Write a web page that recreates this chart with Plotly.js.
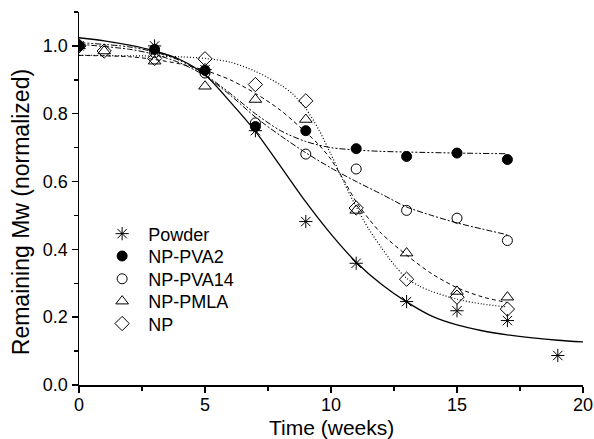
<!DOCTYPE html>
<html>
<head>
<meta charset="utf-8">
<script src="https://cdn.plot.ly/plotly-3.0.1.min.js"></script>
<style>html,body{margin:0;padding:0;background:#fff;}#chart{width:594px;height:439px;}</style>
</head>
<body>
<div id="chart"></div>
<script>
// ---- measured points ----
const seriesNames = ["Powder", "NP-PVA2", "NP-PVA14", "NP-PMLA", "NP"];
const powderT = [0, 3, 5, 7, 9, 11, 13, 15, 17, 19];
const powderY = [1.0, 1.0, 0.93, 0.75, 0.482, 0.359, 0.246, 0.219, 0.19, 0.087];
const pva2T = [0, 3, 5, 7, 9, 11, 13, 15, 17];
const pva2Y = [1.0, 0.99, 0.928, 0.762, 0.75, 0.697, 0.674, 0.684, 0.665];
const pva14T = [0, 3, 5, 7, 9, 11, 13, 15, 17];
const pva14Y = [1.0, 0.98, 0.92, 0.773, 0.681, 0.637, 0.515, 0.492, 0.426];
const pmlaT = [0, 1, 3, 5, 7, 9, 11, 13, 15, 17];
const pmlaY = [1.0, 0.985, 0.955, 0.881, 0.842, 0.783, 0.515, 0.389, 0.276, 0.259];
const npT = [0, 1, 3, 5, 7, 9, 11, 13, 15, 17];
const npY = [1.0, 0.985, 0.963, 0.962, 0.886, 0.838, 0.522, 0.312, 0.259, 0.224];

// ---- fitted curves ----
const powderFitT = [0, 1, 2, 3, 4, 5, 6, 7, 8, 9, 10, 11, 12, 13, 14, 15, 16, 17, 18, 19, 20];
const powderFitY = [1.024, 1.015, 1.002, 0.985, 0.96, 0.915, 0.835, 0.748, 0.645, 0.54, 0.445, 0.362, 0.297, 0.245, 0.203, 0.177, 0.16, 0.148, 0.139, 0.132, 0.127];
const pva2FitT = [0, 2, 3, 4, 5, 6, 7, 8, 9, 10, 11, 12, 13, 15, 17];
const pva2FitY = [1.01, 0.997, 0.982, 0.957, 0.915, 0.86, 0.8, 0.75, 0.718, 0.7, 0.693, 0.689, 0.687, 0.684, 0.682];
const pva14FitT = [0, 2, 3, 4, 5, 6, 7, 8, 9, 10, 11, 12, 13, 14, 15, 16, 17];
const pva14FitY = [1.005, 0.99, 0.975, 0.95, 0.912, 0.855, 0.79, 0.735, 0.685, 0.64, 0.6, 0.563, 0.525, 0.5, 0.478, 0.46, 0.443];
const pmlaFitT = [0, 2, 3, 4, 5, 6, 7, 8, 9, 9.5, 10, 10.5, 11, 11.5, 12, 13, 14, 15, 16, 17];
const pmlaFitY = [0.972, 0.968, 0.96, 0.947, 0.928, 0.9, 0.86, 0.81, 0.745, 0.71, 0.665, 0.605, 0.54, 0.49, 0.447, 0.383, 0.328, 0.287, 0.26, 0.243];
const npFitT = [0, 2, 4, 5, 6, 7, 8, 8.5, 9, 9.5, 10, 10.5, 11, 11.5, 12, 12.5, 13, 13.5, 14, 15, 16, 17];
const npFitY = [0.972, 0.971, 0.968, 0.963, 0.952, 0.925, 0.885, 0.857, 0.815, 0.755, 0.68, 0.6, 0.525, 0.46, 0.405, 0.355, 0.315, 0.292, 0.276, 0.253, 0.239, 0.23];

const xTicks = [0, 5, 10, 15, 20];
const yTicks = [0.0, 0.2, 0.4, 0.6, 0.8, 1.0];
const yTickText = ["0.0", "0.2", "0.4", "0.6", "0.8", "1.0"];
const xTitle = "Time (weeks)";
const yTitle = "Remaining Mw (normalized)";

const FONT = "Liberation Sans, Arial, sans-serif";

function fit(x, y, dash, width) {
  return {x: x, y: y, type: "scatter", mode: "lines", showlegend: false, hoverinfo: "skip",
    line: {color: "black", width: width || 1, dash: dash, shape: "spline", smoothing: 0.8}};
}
function pts(x, y, name, symbol, size, legendId) {
  return {x: x, y: y, type: "scatter", mode: "markers", name: name, legend: legendId,
    marker: {symbol: symbol, size: size, color: "black", line: {color: "black", width: 1}}};
}

const data = [
  fit(powderFitT, powderFitY, "solid", 1.3),
  fit(pva2FitT, pva2FitY, "6px,2px,2px,2px,2px,2px"),
  fit(pva14FitT, pva14FitY, "6px,2px,2px,2px"),
  fit(pmlaFitT, pmlaFitY, "4px,3px"),
  fit(npFitT, npFitY, "1px,2px", 1.2),
  pts(powderT, powderY, seriesNames[0], "asterisk-open", 11, "legend"),
  pts(pva2T, pva2Y, seriesNames[1], "circle", 10, "legend2"),
  pts(pva14T, pva14Y, seriesNames[2], "circle-open", 10, "legend3"),
  pts(pmlaT, pmlaY, seriesNames[3], "triangle-up-open", 11, "legend4"),
  pts(npT, npY, seriesNames[4], "diamond-open", 11, "legend5")
];

function legendAt(yc) {
  return {x: 0.034, y: yc, xanchor: "left", yanchor: "middle", bgcolor: "rgba(0,0,0,0)",
    font: {family: FONT, size: 18, color: "black"}, itemwidth: 42, borderwidth: 0};
}

const layout = {
  width: 594, height: 439,
  margin: {l: 79, r: 11, t: 12, b: 54},
  paper_bgcolor: "white", plot_bgcolor: "white",
  font: {family: FONT, size: 18, color: "black"},
  showlegend: true,
  legend: legendAt(0.405),
  legend2: legendAt(0.345),
  legend3: legendAt(0.284),
  legend4: legendAt(0.224),
  legend5: legendAt(0.164),
  xaxis: {
    range: [0, 20], tickvals: xTicks, ticktext: xTicks.map(String),
    showgrid: false, zeroline: false, showline: true, linecolor: "black", linewidth: 1.5,
    ticks: "outside", ticklen: 6, tickwidth: 1.5, tickcolor: "black", ticklabelstandoff: -3,
    tickfont: {family: FONT, size: 18, color: "black"},
    minor: {dtick: 2.5, ticks: "outside", ticklen: 4, tickwidth: 1.5, tickcolor: "black", showgrid: false}
  },
  yaxis: {
    range: [0, 1.1], tickvals: yTicks, ticktext: yTickText,
    showgrid: false, zeroline: false, showline: true, linecolor: "black", linewidth: 1.5,
    ticks: "outside", ticklen: 6, tickwidth: 1.5, tickcolor: "black",
    tickfont: {family: FONT, size: 18, color: "black"},
    minor: {dtick: 0.1, ticks: "outside", ticklen: 4, tickwidth: 1.5, tickcolor: "black", showgrid: false}
  },
  annotations: [
    {text: xTitle, xref: "paper", yref: "paper", x: 0.5, y: -0.113, xanchor: "center", yanchor: "middle",
     showarrow: false, font: {family: FONT, size: 21, color: "black"}, borderpad: 0},
    {text: yTitle, xref: "paper", yref: "paper", x: -0.116, y: 0.462, xanchor: "center", yanchor: "middle",
     textangle: -90, showarrow: false, font: {family: FONT, size: 23, color: "black"}, borderpad: 0}
  ]
};

Plotly.newPlot("chart", data, layout, {displayModeBar: false, staticPlot: true});
</script>
</body>
</html>
